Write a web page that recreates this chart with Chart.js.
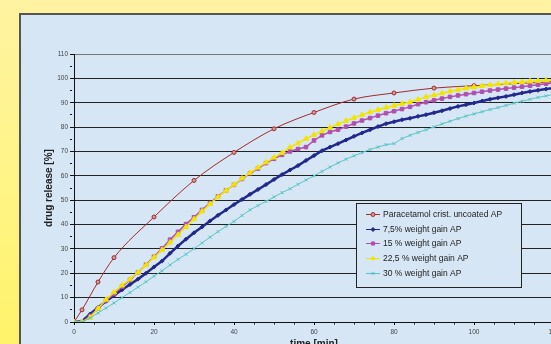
<!DOCTYPE html>
<html>
<head>
<meta charset="utf-8">
<script src="https://cdn.jsdelivr.net/npm/chart.js"></script>
<style>
  html, body { margin: 0; padding: 0; }
  body {
    width: 551px; height: 344px; overflow: hidden; position: relative;
    background: linear-gradient(to bottom, #fff3a2 0%, #fff482 60%, #fff36a 100%);
    font-family: "Liberation Sans", Arial, sans-serif;
  }
  #panel {
    position: absolute; left: 19px; top: 13px; width: 620px; height: 400px;
    background: #d6e6f5; border-left: 2px solid #555; border-top: 2px solid #555;
  }
  #plot { position: absolute; left: 0; top: 0; }
</style>
</head>
<body>
<div id="panel"></div>
<canvas id="plot" width="620" height="380"></canvas>
<script>
// time points (min) of the coated pellets, sampled every 2 min
const times = [0, 2, 4, 6, 8, 10, 12, 14, 16, 18, 20, 22, 24, 26, 28, 30, 32, 34, 36, 38, 40,
  42, 44, 46, 48, 50, 52, 54, 56, 58, 60, 62, 64, 66, 68, 70, 72, 74, 76, 78, 80,
  82, 84, 86, 88, 90, 92, 94, 96, 98, 100, 102, 104, 106, 108, 110, 112, 114, 116, 118, 120];

// uncoated paracetamol has its own sampling times
const uncoatedTimes = [0, 2, 6, 10, 20, 30, 40, 50, 60, 70, 80, 90, 100, 120];
const uncoated = [0, 5.0, 16.4, 26.4, 43.1, 58.1, 69.6, 79.3, 86.0, 91.5, 94.0, 96.0, 97.0, 98.6];

const gain75 = [0, 0.3, 3.2, 6.0, 8.5, 10.9, 13.2, 15.4, 17.6, 20.0, 22.6, 25.0, 28.2, 31.2, 34.0, 36.6, 39.0, 41.5, 43.8, 46.0, 48.2,
  50.3, 52.4, 54.4, 56.4, 58.5, 60.5, 62.4, 64.2, 66.3, 68.3, 70.3, 71.8, 73.2, 74.7, 76.2, 77.6, 78.9, 80.2, 81.4, 82.2,
  83.0, 83.6, 84.4, 85.1, 85.9, 86.7, 87.6, 88.5, 89.2, 89.9, 90.7, 91.4, 92.0, 92.6, 93.3, 94.0, 94.6, 95.1, 95.6, 96.1];

const gain15 = [0, 0, 2.5, 5.5, 8.8, 11.5, 14.5, 17.3, 20.3, 23.5, 26.8, 30.2, 33.8, 37.0, 40.2, 43.0, 46.0, 48.8, 51.6, 54.0, 56.3,
  58.7, 61.0, 63.0, 65.2, 67.0, 68.6, 70.0, 71.0, 71.8, 74.5, 76.6, 78.0, 78.9, 80.2, 81.5, 82.7, 83.7, 84.7, 85.7, 86.5,
  87.4, 88.3, 89.4, 90.2, 91.0, 91.7, 92.4, 93.0, 93.5, 94.0, 94.5, 95.0, 95.4, 95.8, 96.2, 96.6, 97.0, 97.4, 97.8, 98.1];

const gain225 = [0, 0, 1.8, 5.5, 9.2, 12.2, 15.0, 17.5, 20.3, 23.3, 26.5, 29.5, 32.6, 35.8, 39.0, 42.2, 45.4, 48.4, 51.3, 53.9, 56.4,
  58.9, 61.2, 63.4, 65.5, 67.5, 69.4, 71.7, 73.4, 75.2, 76.8, 78.3, 79.8, 81.2, 82.6, 83.8, 85.0, 86.1, 87.1, 88.0, 88.8,
  89.6, 90.3, 91.3, 92.4, 93.1, 93.9, 94.7, 95.3, 95.9, 96.4, 96.9, 97.3, 97.7, 98.0, 98.3, 98.5, 98.8, 99.0, 99.2, 99.3];

const gain30 = [0, 0, 1.6, 3.7, 5.7, 7.8, 10.0, 12.1, 14.3, 16.5, 18.8, 21.0, 23.4, 25.7, 27.8, 30.1, 32.4, 34.8, 37.1, 39.2, 41.3,
  43.7, 46.0, 47.8, 49.5, 51.3, 53.1, 54.7, 56.5, 58.3, 60.0, 61.8, 63.6, 65.3, 66.8, 68.2, 69.5, 70.8, 71.8, 72.8, 73.2,
  75.3, 76.6, 77.8, 78.9, 80.1, 81.3, 82.4, 83.5, 84.5, 85.4, 86.3, 87.2, 88.0, 88.9, 89.8, 90.6, 91.4, 92.2, 92.8, 93.4];

const seriesLabels = [
  "Paracetamol crist. uncoated AP",
  "7,5% weight gain AP",
  "15 % weight gain AP",
  "22,5 % weight gain AP",
  "30 % weight gain AP",
];

function pts(xs, ys) {
  return xs.map((x, i) => ({ x: x, y: ys[i] }));
}

// legend drawn inside the plot like the excel original
const legendBox = {
  id: "legendBox",
  afterDatasetsDraw(chart) {
    const { ctx, chartArea } = chart;
    const x = chartArea.left + 282, y = chartArea.top + 149, w = 165, h = 84;
    ctx.save();
    ctx.fillStyle = "#d6e6f5";
    ctx.fillRect(x, y, w, h);
    ctx.strokeStyle = "#222";
    ctx.lineWidth = 1;
    ctx.strokeRect(x + 0.5, y + 0.5, w, h);
    chart.data.datasets.forEach((ds, i) => {
      const cy = Math.round(y + 11 + i * 14.7) + 0.5;
      ctx.strokeStyle = ds.borderColor;
      ctx.lineWidth = 1;
      ctx.beginPath();
      ctx.moveTo(x + 10, cy);
      ctx.lineTo(x + 24, cy);
      ctx.stroke();
      ctx.fillStyle = ds.pointBackgroundColor;
      ctx.strokeStyle = ds.pointBorderColor;
      if (Chart.helpers && Chart.helpers.drawPoint) {
        Chart.helpers.drawPoint(ctx, { pointStyle: ds.pointStyle, rotation: 0, radius: Math.min(ds.pointRadius, 2.2), borderWidth: 1 }, x + 17, cy);
      }
      ctx.fillStyle = "#222";
      ctx.font = "8.5px 'Liberation Sans', Arial, sans-serif";
      ctx.textBaseline = "middle";
      ctx.fillText(ds.label, x + 27, cy);
    });
    ctx.restore();
  },
};

const tickFont = { family: "'Liberation Sans', Arial, sans-serif", size: 6.5 };
const titleFont = { family: "'Liberation Sans', Arial, sans-serif", size: 10, weight: "bold" };

new Chart(document.getElementById("plot"), {
  type: "line",
  data: {
    datasets: [
      {
        label: seriesLabels[0], data: pts(uncoatedTimes, uncoated), order: 4,
        borderColor: "#a32a2a", borderWidth: 1, tension: 0.4, cubicInterpolationMode: "monotone",
        pointStyle: "circle", pointRadius: 2, pointBorderWidth: 1,
        pointBorderColor: "#a32a2a", pointBackgroundColor: "#cf9a9a",
      },
      {
        label: seriesLabels[1], data: pts(times, gain75), order: 3,
        borderColor: "#23288c", borderWidth: 2.5, tension: 0,
        pointStyle: "rectRot", pointRadius: 2, pointBorderWidth: 1,
        pointBorderColor: "#23288c", pointBackgroundColor: "#23288c",
      },
      {
        label: seriesLabels[2], data: pts(times, gain15), order: 2,
        borderColor: "#b04fae", borderWidth: 1.5, tension: 0,
        pointStyle: "rect", pointRadius: 2.5, pointBorderWidth: 1,
        pointBorderColor: "#b04fae", pointBackgroundColor: "#b04fae",
      },
      {
        label: seriesLabels[3], data: pts(times, gain225), order: 1,
        borderColor: "#f2e400", borderWidth: 1.5, tension: 0,
        pointStyle: "triangle", pointRadius: 3, pointBorderWidth: 1,
        pointBorderColor: "#f2e400", pointBackgroundColor: "#f2e400",
      },
      {
        label: seriesLabels[4], data: pts(times, gain30), order: 0,
        borderColor: "#5cc4c4", borderWidth: 1, tension: 0,
        pointStyle: "crossRot", pointRadius: 2.2, pointBorderWidth: 1,
        pointBorderColor: "#5cc4c4", pointBackgroundColor: "#5cc4c4",
      },
    ],
  },
  options: {
    responsive: false,
    animation: false,
    devicePixelRatio: 1,
    layout: { padding: { left: 39, top: 54, right: 66, bottom: 30 } },
    plugins: { legend: { display: false }, tooltip: { enabled: false } },
    scales: {
      x: {
        type: "linear", min: 0, max: 120,
        afterFit: (s) => { s.height = 28; },
        border: { color: "#111", width: 1 },
        grid: {
          drawOnChartArea: false, tickLength: 3, tickColor: "#111",
          tickBorderDash: (c) => (c.tick && c.tick.value % 20 === 0 ? [] : [1.5, 10]),
        },
        ticks: {
          stepSize: 5, autoSkip: false, maxRotation: 0, padding: 3, color: "#444", font: tickFont,
          callback: (v) => (v % 20 === 0 ? v : ""),
        },
        title: { display: true, text: "time [min]", color: "#222", font: titleFont, padding: { top: 0, bottom: 0 } },
      },
      y: {
        min: 0, max: 110,
        afterFit: (s) => { s.width = 35; },
        border: { color: "#111", width: 1 },
        grid: {
          color: (c) => (c.tick && c.tick.value % 10 === 0 ? (c.tick.value === 110 ? "#777" : "#222") : "rgba(0,0,0,0)"),
          tickColor: "#111", tickLength: 4,
          tickBorderDash: (c) => (c.tick && c.tick.value % 10 === 0 ? [] : [2, 10]),
        },
        ticks: {
          stepSize: 5, autoSkip: false, padding: 2, color: "#444", font: tickFont,
          callback: (v) => (v % 10 === 0 ? v : ""),
        },
        title: { display: true, text: "drug release [%]", color: "#222", font: titleFont, padding: { top: 4, bottom: 0 } },
      },
    },
  },
  plugins: [legendBox],
});
</script>
</body>
</html>
